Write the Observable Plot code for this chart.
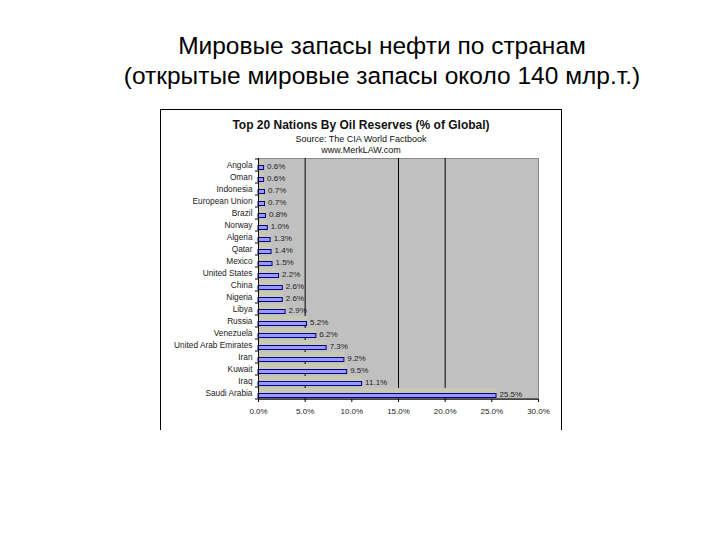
<!DOCTYPE html>
<html>
<head>
<meta charset="utf-8">
<script src="https://cdn.jsdelivr.net/npm/d3@7"></script>
<script src="https://cdn.jsdelivr.net/npm/@observablehq/plot@0.6"></script>
<style>
  html, body { margin: 0; padding: 0; background: #fff; }
  body { width: 720px; height: 540px; position: relative; overflow: hidden; font-family: "Liberation Sans", Arial, sans-serif; }
  .slide-title { position: absolute; left: 22px; width: 720px; text-align: center; font-size: 24.5px; color: #000; line-height: 30px; white-space: nowrap; }
  #frame { position: absolute; left: 160px; top: 109px; width: 400px; height: 320px; border: 1px solid #000; border-bottom: none; }
  .ct { position: absolute; left: 0; width: 400px; text-align: center; white-space: nowrap; color: #111; }
  #chart { position: absolute; left: 0; top: 0; }
</style>
</head>
<body>
<div class="slide-title" style="top:31px">Мировые запасы нефти по странам</div>
<div class="slide-title" style="top:61px">(открытые мировые запасы около 140 млр.т.)</div>
<div id="frame">
  <div class="ct" style="top:8px;font-size:12px;font-weight:bold;">Top 20 Nations By Oil Reserves (% of Global)</div>
  <div class="ct" style="top:24px;font-size:9px;">Source: The CIA World Factbook</div>
  <div class="ct" style="top:35px;font-size:9px;">www.MerkLAW.com</div>
  <div id="chart"></div>
</div>
<script>
const countries = ["Angola","Oman","Indonesia","European Union","Brazil","Norway","Algeria","Qatar","Mexico","United States","China","Nigeria","Libya","Russia","Venezuela","United Arab Emirates","Iran","Kuwait","Iraq","Saudi Arabia"];
const reserves = [0.6,0.6,0.7,0.7,0.8,1.0,1.3,1.4,1.5,2.2,2.6,2.6,2.9,5.2,6.2,7.3,9.2,9.5,11.1,25.5];
const xTicks = [0,5,10,15,20,25,30];
const gridLines = [5,15,20];

const data = countries.map((c, i) => ({country: c, value: reserves[i]}));
const fmt = d => d.toFixed(1) + "%";

const chart = Plot.plot({
  width: 400,
  height: 320,
  marginLeft: 97,
  marginRight: 23,
  marginTop: 48,
  marginBottom: 31,
  style: {fontFamily: "Liberation Sans, Arial, sans-serif", fontSize: "8px", color: "#222", background: "transparent"},
  x: {type: "linear", domain: [0, 30], label: null},
  y: {type: "band", domain: countries, padding: 0, label: null},
  marks: [
    Plot.frame({fill: "#c0c0c0", stroke: "#8a8a8a"}),
    Plot.ruleX(gridLines, {stroke: "#000", strokeWidth: 1}),
    Plot.barX(data, {x: "value", y: "country", fill: "#c7c9b2", insetTop: 1, insetBottom: 5.5}),
    Plot.barX(data, {x: "value", y: "country", fill: "#9999ff", stroke: "#000080", strokeWidth: 1, insetTop: 6.5, insetBottom: 1.5}),
    Plot.text(data, {x: "value", y: "country", text: d => fmt(d.value), textAnchor: "start", dx: 3, dy: 1, fill: "#222", fontSize: 8}),
    Plot.ruleX([0], {stroke: "#000"}),
    Plot.axisX({ticks: xTicks, tickFormat: fmt, tickSize: 3, tickPadding: 6, fontSize: 8, stroke: "#000", label: null}),
    Plot.axisY({tickSize: 0, tickPadding: 6, fontSize: 8.3, label: null})
  ]
});
document.getElementById("chart").appendChild(chart);

// category separator ticks on the y axis and baseline along the bottom, drawn from the scales
const sx = chart.scale("x"), sy = chart.scale("y");
const svg = d3.select(chart);
const x0 = sx.apply(0);
const bw = sy.bandwidth;
const g = svg.append("g").attr("stroke", "#000");
countries.forEach((c) => {
  const yy = sy.apply(c);
  g.append("line").attr("x1", x0 - 3).attr("x2", x0).attr("y1", yy).attr("y2", yy);
});
const yBottom = sy.apply(countries[countries.length - 1]) + bw;
g.append("line").attr("x1", x0 - 3).attr("x2", x0).attr("y1", yBottom).attr("y2", yBottom);
g.append("line").attr("x1", x0).attr("x2", sx.apply(30)).attr("y1", yBottom).attr("y2", yBottom);
</script>
</body>
</html>
